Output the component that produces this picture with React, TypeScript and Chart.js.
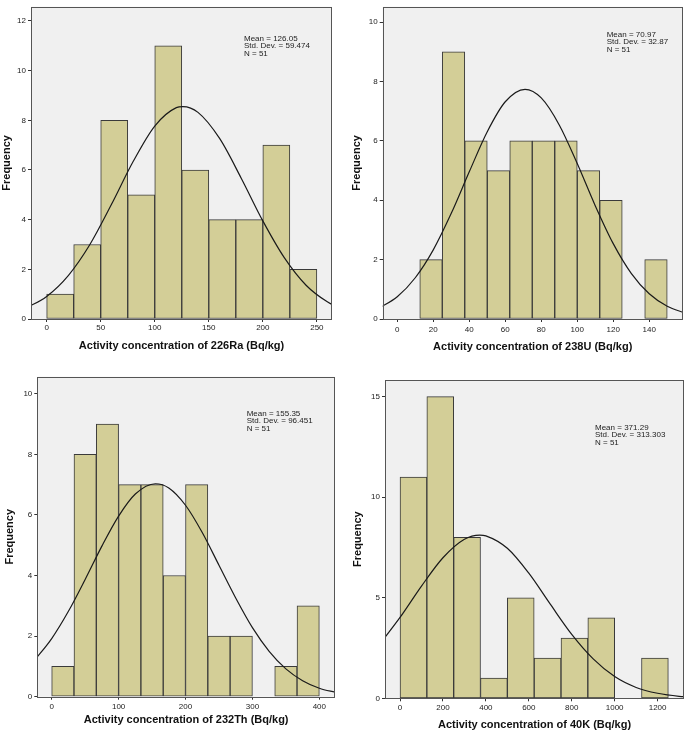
import React, { useEffect, useRef } from "react";
import { Chart, registerables } from "chart.js";

Chart.register(...registerables);
Chart.defaults.font.family = "'Liberation Sans', Arial, sans-serif";

// ---------- Data: 226Ra ----------
const raBinCenters = [12.5, 37.5, 62.5, 87.5, 112.5, 137.5, 162.5, 187.5, 212.5, 237.5];
const raCounts = [1, 3, 8, 5, 11, 6, 4, 4, 7, 2];
const raCurveX = [-20, 0, 20, 40, 60, 80, 100, 120, 126, 140, 160, 180, 200, 220, 240, 260, 270];
const raCurveY = [0.42, 0.91, 1.75, 3.0, 4.62, 6.34, 7.77, 8.51, 8.55, 8.32, 7.27, 5.67, 3.95, 2.46, 1.36, 0.68, 0.46];
const raXTicks = [0, 50, 100, 150, 200, 250];
const raYTicks = [0, 2, 4, 6, 8, 10, 12];
const raStats = ["Mean = 126.05", "Std. Dev. = 59.474", "N = 51"];
const raTitle = "Activity concentration of 226Ra (Bq/kg)";

// ---------- Data: 238U ----------
const uBinCenters = [18.75, 31.25, 43.75, 56.25, 68.75, 81.25, 93.75, 106.25, 118.75, 131.25, 143.75];
const uCounts = [2, 9, 6, 5, 6, 6, 6, 5, 4, 0, 2];
const uCurveX = [-10, 0, 10, 20, 30, 40, 50, 60, 71, 80, 90, 100, 110, 120, 130, 140, 150, 160];
const uCurveY = [0.37, 0.75, 1.39, 2.33, 3.56, 4.96, 6.31, 7.32, 7.74, 7.45, 6.54, 5.24, 3.82, 2.54, 1.54, 0.85, 0.43, 0.2];
const uXTicks = [0, 20, 40, 60, 80, 100, 120, 140];
const uYTicks = [0, 2, 4, 6, 8, 10];
const uStats = ["Mean = 70.97", "Std. Dev. = 32.87", "N = 51"];
const uTitle = "Activity concentration of 238U (Bq/kg)";

// ---------- Data: 232Th ----------
const thBinCenters = [16.67, 50, 83.33, 116.67, 150, 183.33, 216.67, 250, 283.33, 316.67, 350, 383.33];
const thCounts = [1, 8, 9, 7, 7, 4, 7, 2, 2, 0, 1, 3];
const thCurveX = [-25, 0, 25, 50, 75, 100, 125, 155, 175, 200, 225, 250, 275, 300, 325, 350, 375, 400, 425];
const thCurveY = [1.22, 1.92, 2.82, 3.87, 4.97, 5.96, 6.69, 7.03, 6.89, 6.32, 5.42, 4.34, 3.26, 2.28, 1.5, 0.92, 0.53, 0.28, 0.14];
const thXTicks = [0, 100, 200, 300, 400];
const thYTicks = [0, 2, 4, 6, 8, 10];
const thStats = ["Mean = 155.35", "Std. Dev. = 96.451", "N = 51"];
const thTitle = "Activity concentration of 232Th (Bq/kg)";

// ---------- Data: 40K ----------
const kBinCenters = [62.5, 187.5, 312.5, 437.5, 562.5, 687.5, 812.5, 937.5, 1062.5, 1187.5];
const kCounts = [11, 15, 8, 1, 5, 2, 3, 4, 0, 2];
const kCurveX = [-100, 0, 100, 200, 300, 371, 400, 500, 600, 700, 800, 900, 1000, 1100, 1200, 1300, 1400];
const kCurveY = [2.62, 4.02, 5.58, 6.99, 7.91, 8.12, 8.08, 7.46, 6.22, 4.68, 3.18, 1.96, 1.08, 0.54, 0.25, 0.1, 0.04];
const kXTicks = [0, 200, 400, 600, 800, 1000, 1200];
const kYTicks = [0, 5, 10, 15];
const kStats = ["Mean = 371.29", "Std. Dev. = 313.303", "N = 51"];
const kTitle = "Activity concentration of 40K (Bq/kg)";

// ---------- Styles ----------
const BAR_FILL = "#D3CE97";
const BAR_EDGE = "#3A3A3A";
const PLOT_BG = "#F0F0F0";
const FRAME = "#555555";
const CURVE = "#1A1A1A";

const decorPlugin = {
  id: "decor",
  beforeDraw(chart: any) {
    const { ctx, chartArea } = chart;
    if (!chartArea) return;
    ctx.save();
    ctx.fillStyle = PLOT_BG;
    ctx.fillRect(chartArea.left, chartArea.top, chartArea.right - chartArea.left, chartArea.bottom - chartArea.top);
    ctx.restore();
  },
  afterDraw(chart: any) {
    const { ctx, chartArea } = chart;
    const o = chart.options.plugins.decor || {};
    ctx.save();
    ctx.strokeStyle = FRAME;
    ctx.lineWidth = 1;
    const l = Math.round(chartArea.left) + 0.5;
    const t = Math.round(chartArea.top) + 0.5;
    const r = Math.round(chartArea.right) - 0.5;
    const b = Math.round(chartArea.bottom) + 0.5;
    ctx.strokeRect(l, t, r - l, b - t);
    if (o.lines) {
      ctx.fillStyle = "#222";
      ctx.font = "8px 'Liberation Sans', Arial, sans-serif";
      ctx.textBaseline = "middle";
      ctx.textAlign = "left";
      o.lines.forEach((s: string, i: number) => {
        ctx.fillText(s, o.x, o.y + i * o.lh);
      });
    }
    ctx.restore();
  },
};

type PanelCfg = {
  left: number;
  top: number;
  w: number;
  h: number;
  pad: { left: number; right: number; top: number; bottom: number };
  yWidth: number;
  xHeight: number;
  xMin: number;
  xMax: number;
  yMax: number;
  xTickPad: number;
  binCenters: number[];
  counts: number[];
  curveX: number[];
  curveY: number[];
  xTicks: number[];
  yTicks: number[];
  stats: string[];
  statsX: number;
  statsY: number;
  title: string;
};

function Panel({ cfg }: { cfg: PanelCfg }) {
  const ref = useRef<HTMLCanvasElement>(null);
  useEffect(() => {
    const bars = cfg.binCenters.map((x, i) => ({ x, y: cfg.counts[i] }));
    const curve = cfg.curveX.map((x, i) => ({ x, y: cfg.curveY[i] }));
    const chart = new Chart(ref.current as HTMLCanvasElement, {
      type: "bar",
      data: {
        datasets: [
          {
            type: "line",
            data: curve,
            borderColor: CURVE,
            borderWidth: 1.2,
            pointRadius: 0,
            cubicInterpolationMode: "monotone",
            fill: false,
            order: 0,
          } as any,
          {
            type: "bar",
            data: bars,
            backgroundColor: BAR_FILL,
            borderColor: BAR_EDGE,
            borderWidth: 1,
            borderSkipped: false,
            barPercentage: 1,
            categoryPercentage: 1,
            order: 1,
          } as any,
        ],
      },
      options: {
        responsive: false,
        animation: false,
        events: [],
        layout: { padding: cfg.pad },
        plugins: {
          legend: { display: false },
          tooltip: { enabled: false },
          decor: { lines: cfg.stats, x: cfg.statsX, y: cfg.statsY, lh: 7.6 },
        } as any,
        scales: {
          x: {
            type: "linear",
            min: cfg.xMin,
            max: cfg.xMax,
            offset: false,
            border: { display: false },
            grid: { display: true, drawOnChartArea: false, drawTicks: true, tickLength: 3, color: "#333", offset: false },
            ticks: {
              color: "#222",
              font: { size: 8 },
              padding: cfg.xTickPad,
              maxRotation: 0,
              autoSkip: false,
              callback: (v: any) => String(v),
            },
            afterBuildTicks: (scale: any) => {
              scale.ticks = cfg.xTicks.map((v) => ({ value: v }));
            },
            afterFit: (scale: any) => {
              scale.height = cfg.xHeight;
            },
            title: {
              display: true,
              text: cfg.title,
              color: "#111",
              font: { size: 11, weight: "bold" },
              padding: 0,
            },
          } as any,
          y: {
            type: "linear",
            min: 0,
            max: cfg.yMax,
            border: { display: false },
            grid: { display: true, drawOnChartArea: false, drawTicks: true, tickLength: 3, color: "#333" },
            ticks: {
              color: "#222",
              font: { size: 8 },
              padding: 2,
              autoSkip: false,
              callback: (v: any) => String(v),
            },
            afterBuildTicks: (scale: any) => {
              scale.ticks = cfg.yTicks.map((v) => ({ value: v }));
            },
            afterFit: (scale: any) => {
              scale.width = cfg.yWidth;
            },
            title: {
              display: true,
              text: "Frequency",
              color: "#111",
              font: { size: 11, weight: "bold" },
              padding: 0,
            },
          } as any,
        },
      },
      plugins: [decorPlugin],
    });
    return () => chart.destroy();
  }, []);
  return (
    <canvas
      ref={ref}
      width={cfg.w}
      height={cfg.h}
      style={{ position: "absolute", left: cfg.left, top: cfg.top, width: cfg.w, height: cfg.h }}
    />
  );
}

const panels: PanelCfg[] = [
  {
    left: 0, top: 0, w: 340, h: 362,
    pad: { left: 0, right: 8, top: 3, bottom: 9.9 },
    yWidth: 31, xHeight: 33.1,
    xMin: -14.5, xMax: 264, yMax: 12.57, xTickPad: 1.2,
    binCenters: raBinCenters, counts: raCounts, curveX: raCurveX, curveY: raCurveY,
    xTicks: raXTicks, yTicks: raYTicks, stats: raStats, statsX: 244, statsY: 38.3, title: raTitle,
  },
  {
    left: 340, top: 0, w: 345, h: 362,
    pad: { left: 10.1, right: 2.3, top: 3, bottom: 8.7 },
    yWidth: 32.6, xHeight: 34.3,
    xMin: -8.1, xMax: 158.6, yMax: 10.52, xTickPad: 3,
    binCenters: uBinCenters, counts: uCounts, curveX: uCurveX, curveY: uCurveY,
    xTicks: uXTicks, yTicks: uYTicks, stats: uStats, statsX: 266.7, statsY: 34.5, title: uTitle,
  },
  {
    left: 0, top: 370, w: 340, h: 362,
    pad: { left: 3.4, right: 5, top: 4, bottom: 5.4 },
    yWidth: 33.9, xHeight: 29.9,
    xMin: -21.5, xMax: 423.4, yMax: 10.56, xTickPad: 2,
    binCenters: thBinCenters, counts: thCounts, curveX: thCurveX, curveY: thCurveY,
    xTicks: thXTicks, yTicks: thYTicks, stats: thStats, statsX: 246.7, statsY: 43.3, title: thTitle,
  },
  {
    left: 340, top: 370, w: 345, h: 362,
    pad: { left: 11.4, right: 1, top: 10, bottom: 0.4 },
    yWidth: 33.6, xHeight: 33.3,
    xMin: -70, xMax: 1323, yMax: 15.83, xTickPad: 2,
    binCenters: kBinCenters, counts: kCounts, curveX: kCurveX, curveY: kCurveY,
    xTicks: kXTicks, yTicks: kYTicks, stats: kStats, statsX: 255, statsY: 57.3, title: kTitle,
  },
];

export default function App() {
  return (
    <div style={{ position: "fixed", left: 0, top: 0, width: 685, height: 732, background: "#fff", overflow: "hidden" }}>
      {panels.map((p, i) => (
        <Panel key={i} cfg={p} />
      ))}
    </div>
  );
}
